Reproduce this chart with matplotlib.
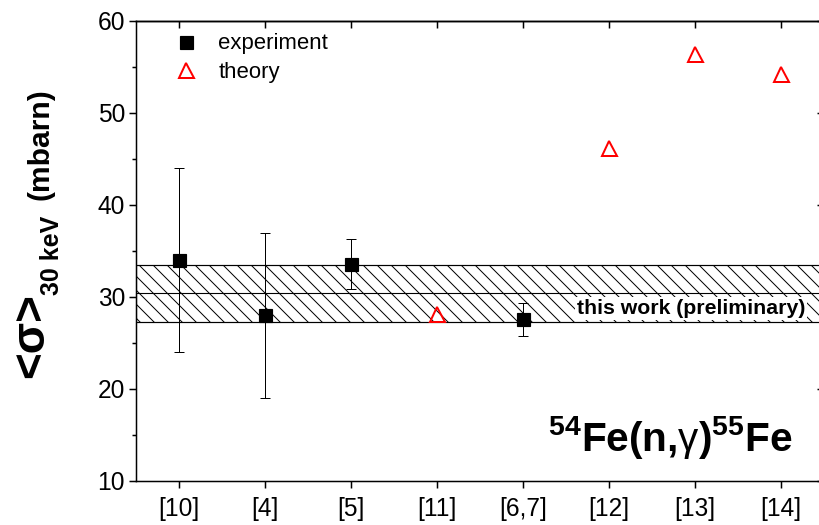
import matplotlib
matplotlib.use("Agg")
import matplotlib.pyplot as plt
from matplotlib.ticker import MultipleLocator

# ---- data ----
categories = ['[10]', '[4]', '[5]', '[11]', '[6,7]', '[12]', '[13]', '[14]']
exp_refs = ['[10]', '[4]', '[5]', '[6,7]']
exp_values = [34.0, 28.0, 33.6, 27.6]
exp_errors = [10.0, 9.0, 2.7, 1.8]
theory_refs = ['[11]', '[12]', '[13]', '[14]']
theory_values = [28.2, 46.2, 56.4, 54.2]
band_center = 30.4
band_low = 27.3
band_high = 33.5

DPI = 84
W, H = 819, 525
P = 72.0 / DPI  # points per pixel

plt.rcParams['font.family'] = ['Liberation Sans', 'DejaVu Sans']
plt.rcParams['mathtext.fontset'] = 'custom'
plt.rcParams['mathtext.rm'] = 'Liberation Sans'
plt.rcParams['mathtext.bf'] = 'Liberation Sans:bold'
plt.rcParams['mathtext.default'] = 'bf'
plt.rcParams['hatch.color'] = 'black'
plt.rcParams['hatch.linewidth'] = 0.85

fig = plt.figure(figsize=(W / DPI, H / DPI), dpi=DPI)
ax = fig.add_axes([136 / W, 1 - 481 / H, 688 / W, 460 / H])

ex = [categories.index(r) for r in exp_refs]
tx = [categories.index(r) for r in theory_refs]

lw_band = 1.1 * P
# band
ax.axhspan(band_low, band_high, facecolor='white', edgecolor='black',
           hatch='\\\\', linewidth=lw_band, zorder=1)
ax.axhline(band_center, color='black', linewidth=lw_band, zorder=4)
ax.axhline(band_low, color='black', linewidth=lw_band, zorder=4)
ax.axhline(band_high, color='black', linewidth=lw_band, zorder=4)

ax.text(577, H - 314, 'this work (preliminary)', transform=None,
        fontsize=21.3 * P, fontweight='bold', ha='left', va='baseline',
        bbox=dict(boxstyle='square,pad=0.08', facecolor='white', edgecolor='none'),
        zorder=3)

# experiment
ax.errorbar(ex, exp_values, yerr=exp_errors, fmt='none', ecolor='black',
            elinewidth=1.0 * P, capsize=5 * P, capthick=1.0 * P, zorder=5)
ax.plot(ex, exp_values, 's', color='black', markersize=13 * P,
        linestyle='none', label='experiment', zorder=6)
# theory
ax.plot(tx, theory_values, '^', markerfacecolor='none', markeredgecolor='red',
        markeredgewidth=2.0 * P, markersize=15 * P, linestyle='none',
        label='theory', zorder=6)

ax.set_xlim(-0.5, len(categories) - 0.5)
ax.set_ylim(10, 60)
ax.set_xticks(range(len(categories)))
ax.set_xticklabels(categories)
ax.yaxis.set_major_locator(MultipleLocator(10))
ax.yaxis.set_minor_locator(MultipleLocator(5))

for s in ax.spines.values():
    s.set_linewidth(1.5 * P)

ax.tick_params(axis='both', which='major', direction='out', length=7 * P,
               width=1.5 * P, labelsize=24.5 * P)
ax.tick_params(axis='y', which='major', pad=4 * P)
ax.tick_params(axis='x', which='major', pad=9 * P)
ax.tick_params(axis='y', which='minor', direction='out', length=4 * P, width=1.5 * P)
ax.tick_params(axis='x', which='minor', bottom=False)

top = ax.secondary_xaxis('top')
top.set_xticks(range(len(categories)))
top.tick_params(axis='x', direction='in', length=7 * P, width=1.5 * P, labeltop=False)
top.spines['top'].set_linewidth(1.5 * P)

right = ax.secondary_yaxis('right')
right.yaxis.set_major_locator(MultipleLocator(10))
right.yaxis.set_minor_locator(MultipleLocator(5))
right.tick_params(axis='y', which='major', direction='in', length=7 * P, width=1.5 * P, labelright=False)
right.tick_params(axis='y', which='minor', direction='in', length=4 * P, width=1.5 * P)

leg = ax.legend(loc='upper left', bbox_to_anchor=(175 / W, 1 - 33.5 / H),
                bbox_transform=fig.transFigure, frameon=False,
                fontsize=22.2 * P, handlelength=1.0, handletextpad=0.95,
                labelspacing=0.33, borderpad=0, borderaxespad=0, numpoints=1)

# reaction label
fig.text(548 / W, 1 - 451 / H, r'$^{54}$Fe(n,$\mathrm{\gamma}$)$^{55}$Fe',
         fontsize=40.5 * P, fontweight='bold', ha='left', va='baseline')

# y label pieces
fig.text(43 / W, 1 - 378 / H, '<σ>', rotation=90, rotation_mode='anchor',
         ha='left', va='baseline', fontsize=46 * P, fontweight='bold')
fig.text(59 / W, 1 - 295 / H, '30 keV', rotation=90, rotation_mode='anchor',
         ha='left', va='baseline', fontsize=25 * P, fontweight='bold')
fig.text(48 / W, 1 - 200 / H, '(mbarn)', rotation=90, rotation_mode='anchor',
         ha='left', va='baseline', fontsize=30 * P, fontweight='bold')

fig.savefig('out.png', dpi=DPI)
